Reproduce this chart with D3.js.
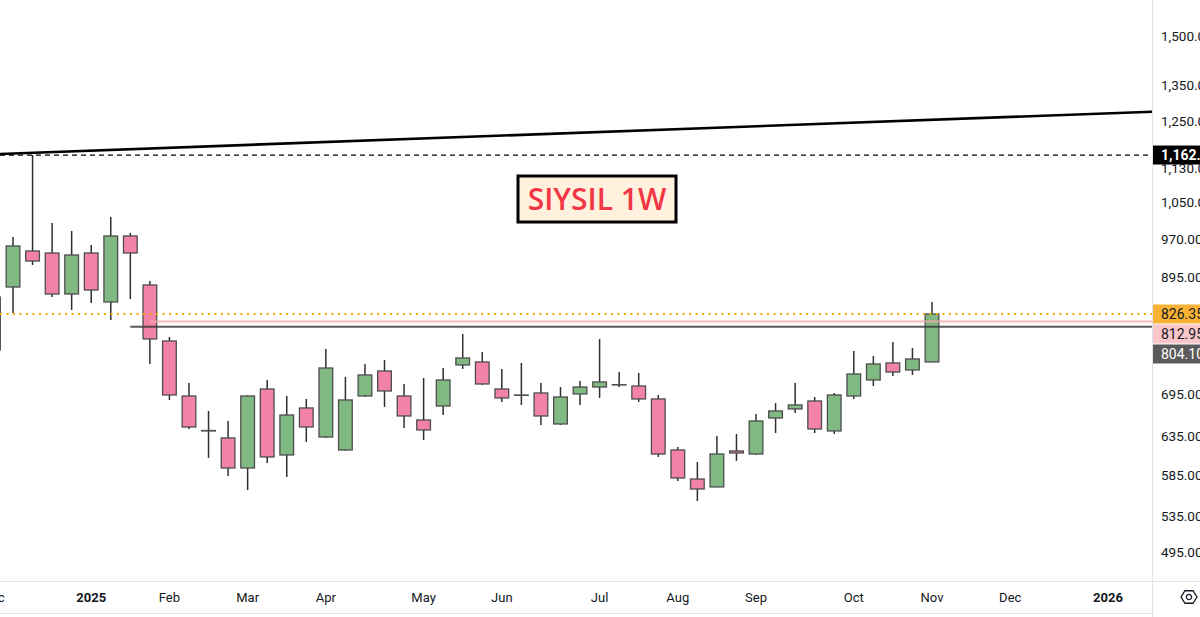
<!DOCTYPE html>
<html>
<head>
<meta charset="utf-8">
<script src="https://cdnjs.cloudflare.com/ajax/libs/d3/7.8.5/d3.min.js"></script>
<style>
html, body { margin: 0; padding: 0; background: #fff; overflow: hidden; }
svg { display: block; }
</style>
</head>
<body>
<svg id="chart" width="1200" height="617"></svg>
<script>
// weekly bars, first one is the week of 2 Dec 2024, last one 3 Nov 2025
const firstWeek = "2024-12-02";
const lastWeek = "2025-11-03";

const opens  = [765.0, 875.6, 946.0, 941.9, 862.6, 941.9, 847.9, 976.9, 879.4, 779.8, 693.0, 643.5, 633.3, 593.8, 703.5, 610.6, 675.4, 634.6, 617.2, 693.0, 731.2, 693.0, 658.2, 678.3, 740.7, 745.5, 703.5, 694.5, 697.5, 652.6, 696.0, 706.5, 710.0, 708.0, 688.6, 617.2, 579.9, 570.1, 615.9, 611.9, 661.0, 674.0, 685.6, 642.9, 693.0, 717.2, 743.9, 732.8, 745.5];
const highs  = [879.0, 974.8, 1162.3, 1004.6, 987.5, 958.2, 1017.6, 983.2, 887.0, 786.6, 712.6, 671.1, 656.8, 694.0, 717.2, 693.0, 688.6, 766.6, 721.9, 742.3, 748.7, 711.1, 720.3, 735.9, 791.6, 761.6, 734.4, 743.9, 712.6, 706.5, 715.7, 783.2, 729.6, 728.1, 694.5, 621.2, 601.5, 636.0, 638.7, 666.7, 682.7, 712.6, 691.5, 697.5, 763.3, 755.1, 778.2, 768.2, 847.9];
const lows   = [757.0, 828.1, 918.0, 857.0, 833.5, 846.1, 815.8, 853.4, 742.3, 687.1, 645.6, 606.7, 583.7, 566.4, 600.2, 582.4, 627.9, 633.3, 615.9, 691.5, 676.9, 647.0, 630.6, 665.3, 734.4, 709.6, 684.2, 679.8, 651.2, 651.2, 679.8, 690.1, 706.5, 684.2, 608.0, 577.5, 553.2, 570.0, 602.8, 610.6, 640.1, 668.2, 640.1, 638.7, 688.6, 708.0, 723.4, 725.0, 745.0];
const closes = [857.0, 956.2, 925.9, 862.6, 937.9, 870.0, 976.9, 941.9, 783.2, 694.5, 648.4, 642.9, 593.8, 693.0, 608.0, 665.3, 648.4, 735.9, 687.1, 725.0, 700.5, 663.9, 644.3, 717.2, 751.9, 711.1, 690.1, 694.0, 663.9, 691.5, 706.5, 714.2, 709.6, 688.6, 611.9, 581.2, 567.6, 611.9, 613.2, 656.8, 671.1, 679.8, 645.6, 694.5, 726.5, 742.3, 729.6, 750.3, 826.35];

const priceTicks = [1500, 1350, 1250, 1130, 1050, 970, 895, 695, 635, 585, 535, 495];

const timeTicks = [
  { date: "2024-12-02", label: "Dec", bold: false },
  { date: "2025-01-06", label: "2025", bold: true },
  { date: "2025-02-03", label: "Feb", bold: false },
  { date: "2025-03-03", label: "Mar", bold: false },
  { date: "2025-03-31", label: "Apr", bold: false },
  { date: "2025-05-05", label: "May", bold: false },
  { date: "2025-06-02", label: "Jun", bold: false },
  { date: "2025-07-07", label: "Jul", bold: false },
  { date: "2025-08-04", label: "Aug", bold: false },
  { date: "2025-09-01", label: "Sep", bold: false },
  { date: "2025-10-06", label: "Oct", bold: false },
  { date: "2025-11-03", label: "Nov", bold: false },
  { date: "2025-12-01", label: "Dec", bold: false },
  { date: "2026-01-05", label: "2026", bold: true }
];

// drawn levels
const trendLine = [{ date: "2024-12-02", price: 1164.3 }, { date: "2026-02-02", price: 1278.9 }];
const highLevel = 1162.3;
const lastPrice = 826.35;
const pinkLevel = { from: "2025-01-27", price: 812.95 };
const greyLevel = { from: "2025-01-20", price: 804.10 };

const W = 1200, H = 617;
const plotW = 1152, plotH = 581;

const parse = d3.utcParse("%Y-%m-%d");
const weeks = d3.utcMonday.range(parse(firstWeek), d3.utcDay.offset(parse(lastWeek), 1));

const bars = weeks.map((d, i) => ({
  date: d, o: opens[i], h: highs[i], l: lows[i], c: closes[i]
}));

const x = d3.scaleUtc()
  .domain([parse("2024-12-09"), parse(lastWeek)])
  .range([13, 932]);

const y = d3.scaleLog()
  .domain([465.9, 1621.1])
  .range([plotH, 0]);

const step = x(parse("2024-12-16")) - x(parse("2024-12-09"));
const bodyW = step * 0.7;

const svg = d3.select("#chart");

svg.append("rect").attr("width", W).attr("height", H).attr("fill", "#fff");

svg.append("defs").append("clipPath").attr("id", "plot")
  .append("rect").attr("width", plotW).attr("height", plotH);

const plot = svg.append("g").attr("clip-path", "url(#plot)");

// candles
const candle = plot.append("g").selectAll("g")
  .data(bars)
  .join("g");

candle.append("line")
  .attr("x1", d => x(d.date)).attr("x2", d => x(d.date))
  .attr("y1", d => y(d.h)).attr("y2", d => y(d.l))
  .attr("stroke", "#2f2f2f")
  .attr("stroke-width", 1.5);

candle.append("rect")
  .attr("x", d => x(d.date) - bodyW / 2)
  .attr("width", bodyW)
  .attr("y", d => y(Math.max(d.o, d.c)))
  .attr("height", d => Math.max(0.01, Math.abs(y(d.o) - y(d.c))))
  .attr("fill", d => d.c >= d.o ? "#81b983" : "#f283a6")
  .attr("stroke", "#4d4d4d")
  .attr("stroke-width", 1.3);

// levels
plot.append("line")
  .attr("x1", 0).attr("x2", plotW)
  .attr("y1", y(highLevel)).attr("y2", y(highLevel))
  .attr("stroke", "#000").attr("stroke-width", 1.2)
  .attr("stroke-dasharray", "5,4");

plot.append("line")
  .attr("x1", x(parse(pinkLevel.from))).attr("x2", plotW)
  .attr("y1", y(pinkLevel.price)).attr("y2", y(pinkLevel.price))
  .attr("stroke", "#f7a9ae").attr("stroke-width", 2).attr("stroke-opacity", 0.8);

plot.append("line")
  .attr("x1", x(parse(greyLevel.from))).attr("x2", plotW)
  .attr("y1", y(greyLevel.price)).attr("y2", y(greyLevel.price))
  .attr("stroke", "#3c3c3c").attr("stroke-width", 2).attr("stroke-opacity", 0.85);

plot.append("line")
  .attr("x1", 0).attr("x2", plotW)
  .attr("y1", y(lastPrice)).attr("y2", y(lastPrice))
  .attr("stroke", "#f7a600").attr("stroke-width", 2)
  .attr("stroke-dasharray", "2,4.5");

plot.append("path")
  .datum(trendLine)
  .attr("d", d3.line().x(d => x(parse(d.date))).y(d => y(d.price)))
  .attr("fill", "none")
  .attr("stroke", "#000")
  .attr("stroke-width", 2.6);

// title box
const title = svg.append("g").attr("transform", "translate(597,199)");
title.append("rect")
  .attr("x", -79).attr("y", -23).attr("width", 158).attr("height", 46)
  .attr("fill", "#fff1dd").attr("stroke", "#000").attr("stroke-width", 3);
title.append("text")
  .attr("text-anchor", "middle").attr("dy", "0.36em")
  .attr("font-family", "'Open Sans', sans-serif")
  .attr("font-weight", 600)
  .attr("font-size", 30)
  .attr("fill", "#f23645")
  .text("SIYSIL 1W");

// frame lines
svg.append("line").attr("x1", plotW + 0.5).attr("x2", plotW + 0.5).attr("y1", 0).attr("y2", H)
  .attr("stroke", "#e0e3eb");
svg.append("line").attr("x1", 0).attr("x2", W).attr("y1", plotH + 0.5).attr("y2", plotH + 0.5)
  .attr("stroke", "#e0e3eb");
svg.append("line").attr("x1", 0).attr("x2", plotW).attr("y1", 613.5).attr("y2", 613.5)
  .attr("stroke", "#e0e3eb");

// price axis
const fmt = d3.format(",.2f");
const axisFont = "Roboto, 'Liberation Sans', sans-serif";

svg.append("g").selectAll("text")
  .data(priceTicks)
  .join("text")
  .attr("x", 1161)
  .attr("y", d => y(d))
  .attr("dy", "0.35em")
  .attr("font-family", axisFont)
  .attr("font-size", 13.5)
  .attr("fill", "#131722")
  .text(d => fmt(d));

// price tags, stacked so they do not overlap
const tags = [
  { price: highLevel, fill: "#000", color: "#fff", weight: 700 },
  { price: lastPrice, fill: "#f9b233", color: "#131722", weight: 400 },
  { price: pinkLevel.price, fill: "#f9c6c9", color: "#131722", weight: 400 },
  { price: greyLevel.price, fill: "#5b5b5b", color: "#fff", weight: 400 }
];
const tagH = 19;
let prevBottom = -Infinity;
tags.forEach(t => {
  t.top = Math.max(y(t.price) - tagH / 2, prevBottom + 1);
  prevBottom = t.top + tagH;
});

const tag = svg.append("g").selectAll("g")
  .data(tags)
  .join("g")
  .attr("transform", d => `translate(${plotW + 1},${d.top})`);

tag.append("rect")
  .attr("width", W - plotW).attr("height", tagH)
  .attr("fill", d => d.fill);

tag.append("text")
  .attr("x", 8).attr("y", tagH / 2).attr("dy", "0.35em")
  .attr("font-family", axisFont)
  .attr("font-size", 14)
  .attr("font-weight", d => d.weight)
  .attr("fill", d => d.color)
  .text(d => fmt(d.price));

// time axis
svg.append("g").selectAll("text")
  .data(timeTicks)
  .join("text")
  .attr("x", d => x(parse(d.date)))
  .attr("y", 597)
  .attr("dy", "0.35em")
  .attr("text-anchor", "middle")
  .attr("font-family", axisFont)
  .attr("font-size", 13)
  .attr("font-weight", d => d.bold ? 700 : 400)
  .attr("fill", "#131722")
  .text(d => d.label);

// settings icon
const gear = svg.append("g").attr("transform", "translate(1189,597)");
const hex = d3.range(6).map(k => {
  const a = Math.PI / 3 * k;
  return [8 * Math.cos(a), 7.2 * Math.sin(a)];
});
gear.append("path")
  .attr("d", d3.line().curve(d3.curveLinearClosed)(hex))
  .attr("fill", "none").attr("stroke", "#131722").attr("stroke-width", 1.3);
gear.append("circle").attr("r", 2.6)
  .attr("fill", "none").attr("stroke", "#131722").attr("stroke-width", 1.3);
</script>
</body>
</html>
